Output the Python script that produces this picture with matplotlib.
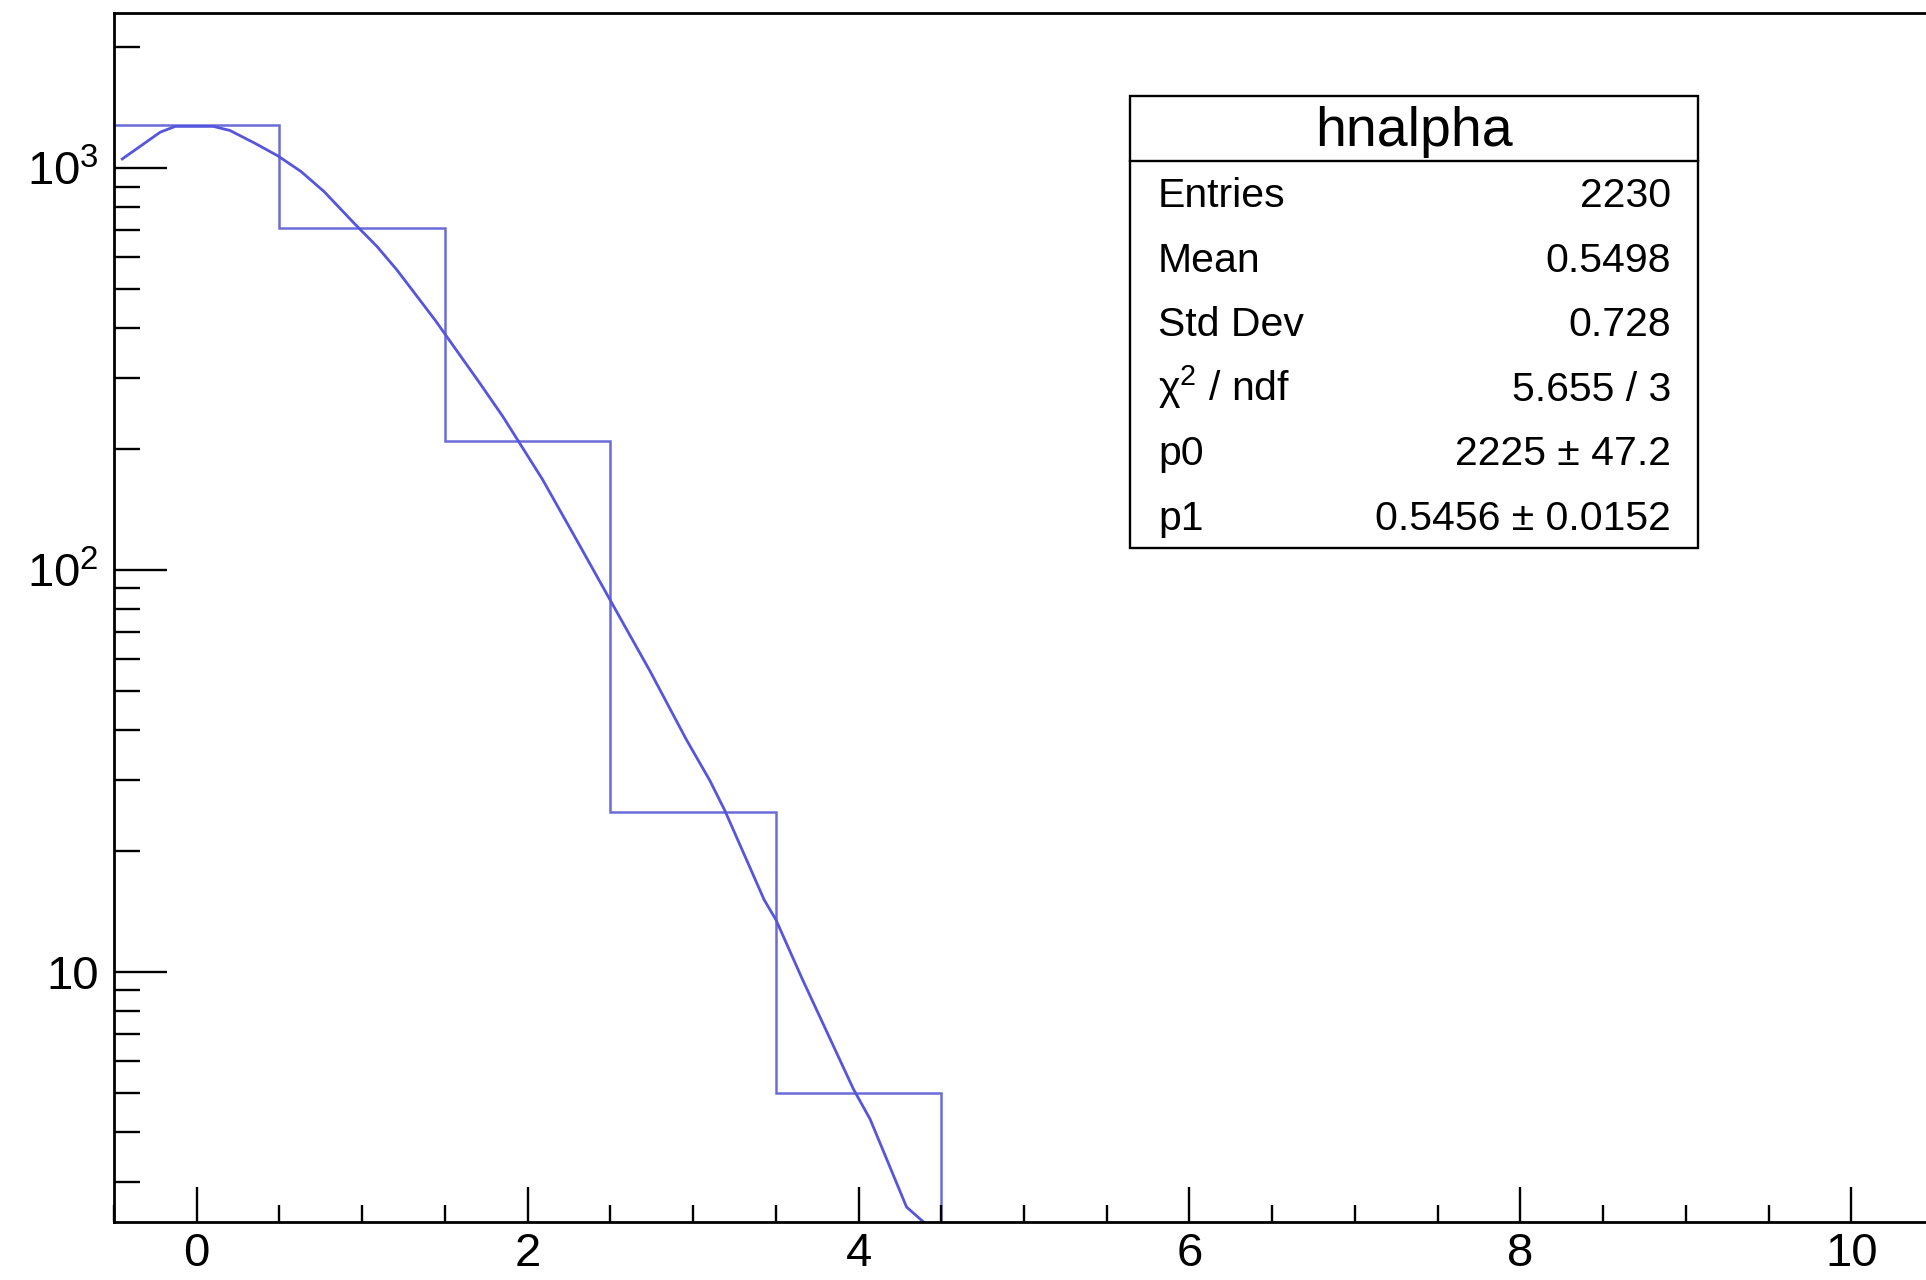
import numpy as np
import matplotlib
matplotlib.use("Agg")
import matplotlib.pyplot as plt
from matplotlib.ticker import FixedLocator, NullFormatter, MultipleLocator
from matplotlib.patches import Rectangle
from matplotlib.lines import Line2D

plt.rcParams['font.family'] = ['Liberation Sans', 'DejaVu Sans']
plt.rcParams['mathtext.fontset'] = 'custom'
plt.rcParams['mathtext.rm'] = 'Liberation Sans'
plt.rcParams['mathtext.it'] = 'Liberation Sans:italic'
plt.rcParams['mathtext.bf'] = 'Liberation Sans:bold'

# ---------------- data ----------------
bin_edges = [-0.5, 0.5, 1.5, 2.5, 3.5, 4.5, 5.5]
bin_counts = [1279, 711, 210, 25, 5, 0]

fit_x = [-0.45, -0.30, -0.22, -0.13, 0.10, 0.20, 0.35, 0.49, 0.63, 0.77,
         0.95, 1.09, 1.21, 1.44, 1.71, 1.85, 2.09, 2.31, 2.50, 2.74,
         2.96, 3.10, 3.19, 3.43, 3.50, 3.66, 3.97, 4.07, 4.29, 4.49]
fit_y = [1054, 1165, 1229, 1270, 1270, 1241, 1154, 1073, 981, 874,
         730, 638, 558, 419, 292, 241, 168, 116, 84, 56,
         37.8, 30.0, 25.3, 15.1, 13.5, 9.6, 5.1, 4.3, 2.6, 2.2]

stats_title = "hnalpha"
stats_labels = ["Entries", "Mean", "Std Dev", "χ$^{2}$ / ndf", "p0", "p1"]
stats_values = ["2230", "0.5498", "0.728", "5.655 / 3",
                "2225 ± 47.2", "0.5456 ± 0.0152"]

x_major = [0, 2, 4, 6, 8, 10]
y_major = [10, 100, 1000]
y_major_labels = ["10", "$\\mathregular{10^{2}}$", "$\\mathregular{10^{3}}$"]

# ---------------- figure ----------------
W, H = 1926, 1280
fig = plt.figure(figsize=(W / 100, H / 100), dpi=100)

def fx(px):
    return px / W

def fy(py):
    return 1 - py / H

ax_left, ax_right, ax_top, ax_bottom = 114, 1934, 13, 1222
ax = fig.add_axes([fx(ax_left), fy(ax_bottom), fx(ax_right - ax_left),
                   (ax_bottom - ax_top) / H])

hist_color = '#6c6cd8'
fit_color = '#5555dd'

ax.set_yscale('log', nonpositive='clip')
ax.stairs(bin_counts, bin_edges, baseline=None, color=hist_color, lw=1.8)
ax.plot(fit_x, fit_y, color=fit_color, lw=2.0)

ax.set_xlim(-0.5, 10.5)
ax.set_ylim(2.386, 2432)

ax.xaxis.set_major_locator(FixedLocator(x_major))
ax.xaxis.set_minor_locator(MultipleLocator(0.5))
ax.set_xticklabels([str(v) for v in x_major])

ax.yaxis.set_major_locator(FixedLocator(y_major))
ax.set_yticklabels(y_major_labels)
minor_y = [m * d for d in (1, 10, 100, 1000) for m in range(2, 10)]
ax.yaxis.set_minor_locator(FixedLocator(minor_y))
ax.yaxis.set_minor_formatter(NullFormatter())

ax.tick_params(axis='both', which='both', direction='in', width=1.7,
               top=False, right=False, colors='black')
ax.tick_params(axis='x', which='major', length=25, labelsize=34, pad=7)
ax.tick_params(axis='x', which='minor', length=12.5)
ax.tick_params(axis='y', which='major', length=38, labelsize=34, pad=11)
ax.tick_params(axis='y', which='minor', length=19)
for s in ax.spines.values():
    s.set_linewidth(2.0)
    s.set_color('black')

# ---------------- stats box ----------------
bx0, bx1, by0, by1, bdiv = 1130, 1698, 96, 548, 161
fig.patches.append(Rectangle((fx(bx0), fy(by1)), fx(bx1 - bx0), (by1 - by0) / H,
                             transform=fig.transFigure, facecolor='white',
                             edgecolor='black', lw=1.7, zorder=5))
fig.lines.append(Line2D([fx(bx0), fx(bx1)], [fy(bdiv), fy(bdiv)],
                        transform=fig.transFigure, color='black', lw=1.7,
                        zorder=6))
fig.text(fx((bx0 + bx1) / 2), fy(146), stats_title, ha='center',
         va='baseline', fontsize=40, zorder=7)
row_h = (by1 - bdiv) / len(stats_labels)
for i, (lab, val) in enumerate(zip(stats_labels, stats_values)):
    base = bdiv + row_h * (i + 0.5) + 14
    fig.text(fx(1158), fy(base), lab, ha='left', va='baseline',
             fontsize=29.5, zorder=7)
    fig.text(fx(1671), fy(base), val, ha='right', va='baseline',
             fontsize=29.5, zorder=7)

fig.savefig("out.png", dpi=100)
